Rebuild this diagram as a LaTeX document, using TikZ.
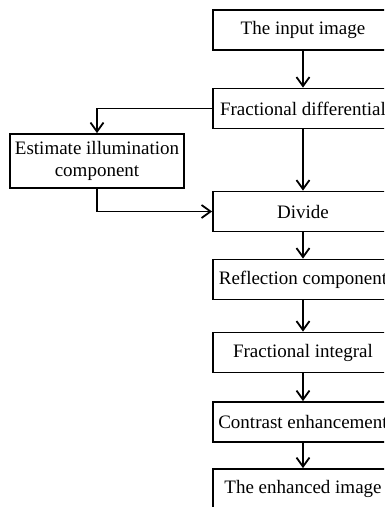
\documentclass[tikz,border=0pt]{standalone}
\usepackage{fontspec}
\setmainfont{Liberation Serif}
\usetikzlibrary{arrows.meta}

\begin{document}
\begin{tikzpicture}[->,>={Straight Barb[length=9pt,width=13pt]},x=1pt,y=-1pt,
  line width=1.8pt,
  main node/.style={rectangle,draw,fill=white,
  font=\fontsize{19}{21.5}\selectfont,minimum width=180pt,minimum height=40pt,inner sep=2pt},
  side node/.style={main node,minimum width=174pt,minimum height=54pt,align=center}]
  \useasboundingbox (0,0) rectangle (384,507);
  \clip (0,0) rectangle (384,507);
  \node[main node] (input) at (303,30) {The input image};
  \node[main node] (fdiff) at (303,108.5) {Fractional differential};
  \node[side node] (est) at (97,161) {Estimate illumination\\component};
  \node[main node] (div) at (303,211.5) {Divide};
  \node[main node] (refl) at (303,279.5) {Reflection component};
  \node[main node] (fint) at (303,352.5) {Fractional integral};
  \node[main node] (cont) at (303,422) {Contrast enhancement};
  \node[main node] (out) at (303,489) {The enhanced image};

  % arrows
  \draw (input) -- (fdiff);
  \draw (fdiff.west) -| (est.north);
  \draw (fdiff) -- (div);
  \draw (est.south) |- (div.west);
  \draw (div) -- (refl);
  \draw (refl) -- (fint);
  \draw (fint) -- (cont);
  \draw (cont) -- (out);
\end{tikzpicture}
\end{document}
